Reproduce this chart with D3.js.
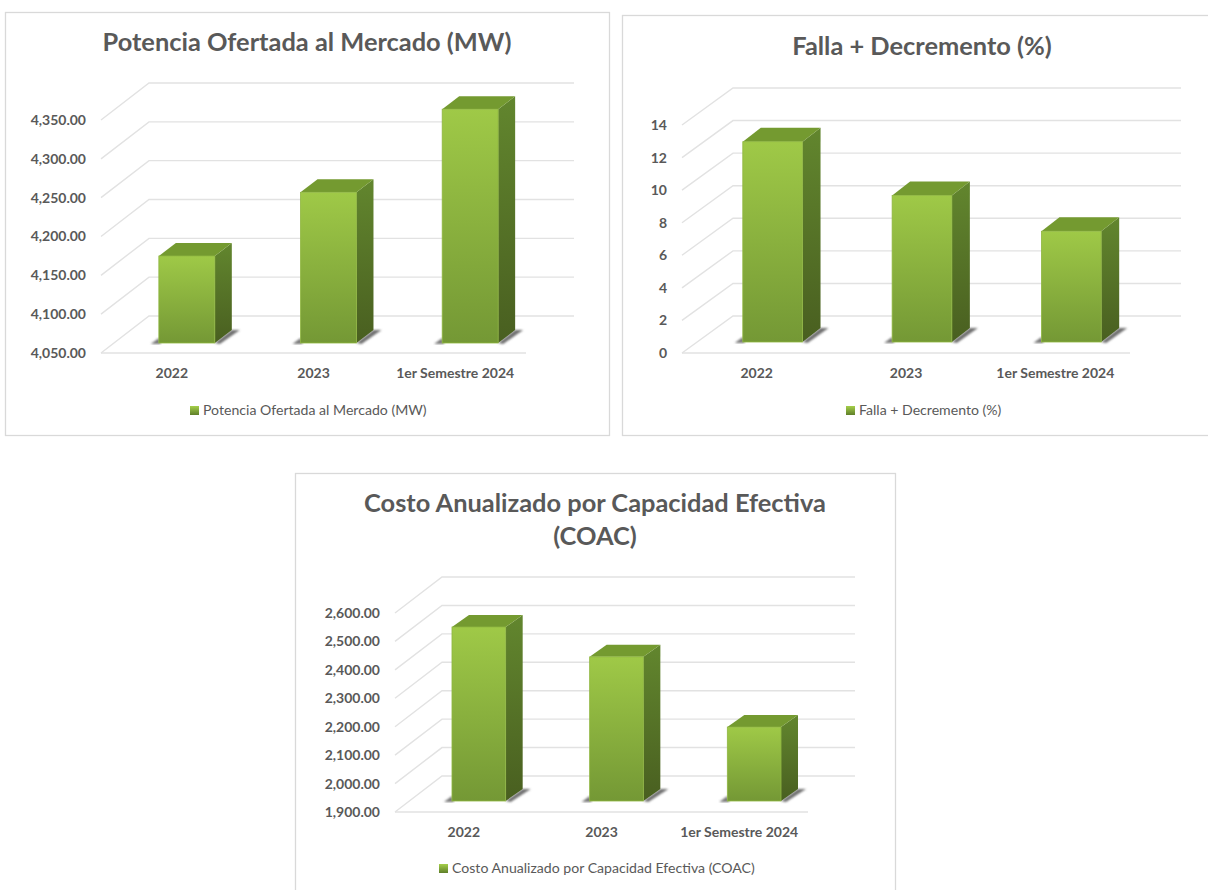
<!DOCTYPE html>
<html>
<head>
<meta charset="utf-8">
<script src="https://cdn.jsdelivr.net/npm/d3@7"></script>
<style>
  body { margin: 0; background: #fff; }
  svg { display: block; }
  text { font-family: Lato, "Open Sans", sans-serif; fill: #595959; }
</style>
</head>
<body>
<svg id="charts" width="1208" height="890"></svg>
<script>
var categories = ["2022", "2023", "1er Semestre 2024"];

var potenciaValues = [4162, 4244, 4351];
var potenciaTicks = [4050, 4100, 4150, 4200, 4250, 4300, 4350];

var fallaValues = [12.3, 9.0, 6.8];
var fallaTicks = [0, 2, 4, 6, 8, 10, 12, 14];

var coacValues = [2512, 2407, 2160];
var coacTicks = [1900, 2000, 2100, 2200, 2300, 2400, 2500, 2600];

var svg = d3.select("#charts");
var defs = svg.append("defs");

function gradient(id, top, bottom) {
  var g = defs.append("linearGradient").attr("id", id)
    .attr("x1", 0).attr("y1", 0).attr("x2", 0).attr("y2", 1);
  g.append("stop").attr("offset", "0%").attr("stop-color", top);
  g.append("stop").attr("offset", "100%").attr("stop-color", bottom);
}
gradient("front", "#9fc947", "#749835");
gradient("side", "#62862e", "#495f20");
gradient("swatch", "#a5cf4a", "#5f7f2a");
defs.append("filter").attr("id", "soft")
  .append("feGaussianBlur").attr("stdDeviation", 0.8);

function poly(pts) {
  return "M" + pts.map(function(p) { return p.join(","); }).join("L") + "Z";
}

function drawChart(c) {
  var g = svg.append("g");

  g.append("rect")
    .attr("x", c.panel[0]).attr("y", c.panel[1])
    .attr("width", c.panel[2]).attr("height", c.panel[3])
    .attr("fill", "#fff").attr("stroke", "#d9d9d9").attr("stroke-width", 1.3);

  c.title.forEach(function(line, i) {
    g.append("text")
      .attr("x", c.titleX).attr("y", c.titleY + i * 33)
      .attr("text-anchor", "middle")
      .attr("font-size", 25.4).attr("font-weight", 700)
      .text(line);
  });

  var x = d3.scaleBand().domain(categories).range([c.x0, c.x1])
    .paddingInner(c.pad).paddingOuter(c.pad / 2);
  var y = d3.scaleLinear().domain(d3.extent(c.ticks)).range([c.floorY, c.topY]);

  // walls: diagonal on the left, then the back gridline
  c.ticks.forEach(function(t) {
    g.append("path")
      .attr("d", "M" + c.x0 + "," + y(t) + "L" + (c.x0 + c.dx) + "," + (y(t) - c.dy) + "H" + (c.x1 + c.dx))
      .attr("fill", "none").attr("stroke", "#e2e2e2").attr("stroke-width", 1.4);
  });
  g.append("line")
    .attr("x1", c.x0).attr("x2", c.x1)
    .attr("y1", c.floorY).attr("y2", c.floorY)
    .attr("stroke", "#e2e2e2").attr("stroke-width", 1.4);

  var w = x.bandwidth();
  var bars = g.selectAll(".bar").data(c.values).enter().append("g").attr("class", "bar");

  function left(d, i) { return x(categories[i]) + c.barDx; }
  var base = c.floorY - c.barDy;

  // shadow on the floor, a wedge on each side of the foot
  bars.append("path")
    .attr("d", function(d, i) {
      var l = left(d, i), r = l + w;
      return poly([[r, base], [r + c.sideDx, base - c.sideDy], [r + c.sideDx + 8, base - c.sideDy], [r + 5, base + 1]]);
    })
    .attr("fill", "#6f6f6f").attr("filter", "url(#soft)");
  bars.append("path")
    .attr("d", function(d, i) {
      var l = left(d, i);
      return poly([[l - 8, base + 1], [l, base - 5], [l + 2, base + 1]]);
    })
    .attr("fill", "#777").attr("filter", "url(#soft)");

  bars.append("path")
    .attr("d", function(d, i) {
      var l = left(d, i), t = y(d) - c.barDy;
      return poly([[l + w, t], [l + w + c.sideDx, t - c.sideDy], [l + w + c.sideDx, base - c.sideDy], [l + w, base]]);
    })
    .attr("fill", "url(#side)");

  bars.append("path")
    .attr("d", function(d, i) {
      var l = left(d, i), t = y(d) - c.barDy;
      return poly([[l, t], [l + c.sideDx, t - c.sideDy], [l + w + c.sideDx, t - c.sideDy], [l + w, t]]);
    })
    .attr("fill", "#749a30");

  bars.append("rect")
    .attr("x", left)
    .attr("y", function(d) { return y(d) - c.barDy; })
    .attr("width", w)
    .attr("height", function(d) { return base - y(d) + c.barDy; })
    .attr("fill", "url(#front)")
    .attr("stroke", "#8fb640").attr("stroke-width", 0.8);

  var yAxis = d3.axisLeft(y).tickValues(c.ticks).tickSize(0).tickPadding(15).tickFormat(d3.format(c.format));
  var yG = g.append("g").attr("transform", "translate(" + c.x0 + ",0)").call(yAxis);
  yG.select(".domain").remove();
  yG.selectAll("text").attr("font-size", 14).attr("font-weight", 700).attr("font-family", null);

  var xAxis = d3.axisBottom(x).tickSize(0).tickPadding(15);
  var xG = g.append("g").attr("transform", "translate(0," + c.floorY + ")").call(xAxis);
  xG.select(".domain").remove();
  xG.selectAll("text").attr("font-size", 14).attr("font-weight", 700).attr("font-family", null);

  g.append("rect")
    .attr("x", c.legendX).attr("y", c.legendY - 9)
    .attr("width", 9).attr("height", 9)
    .attr("fill", "url(#swatch)");
  g.append("text")
    .attr("x", c.legendX + 13).attr("y", c.legendY)
    .attr("font-size", 14.1)
    .text(c.legend);
}

drawChart({
  panel: [5.5, 12.5, 604, 423],
  title: ["Potencia Ofertada al Mercado (MW)"], titleX: 307, titleY: 51,
  values: potenciaValues, ticks: potenciaTicks, format: ",.2f",
  x0: 101, x1: 526, floorY: 353, topY: 120, dx: 48, dy: 37, pad: 0.605,
  barDx: 15, barDy: 10, sideDx: 17, sideDy: 13,
  legend: "Potencia Ofertada al Mercado (MW)", legendX: 190, legendY: 415
});

drawChart({
  panel: [622.5, 15.5, 620, 420],
  title: ["Falla + Decremento (%)"], titleX: 922, titleY: 55,
  values: fallaValues, ticks: fallaTicks, format: "d",
  x0: 682, x1: 1130, floorY: 353, topY: 125, dx: 51, dy: 37, pad: 0.6,
  barDx: 16, barDy: 11, sideDx: 18, sideDy: 14,
  legend: "Falla + Decremento (%)", legendX: 846, legendY: 415
});

drawChart({
  panel: [295.5, 473.5, 600, 430],
  title: ["Costo Anualizado por Capacidad Efectiva", "(COAC)"], titleX: 595, titleY: 512,
  values: coacValues, ticks: coacTicks, format: ",.2f",
  x0: 395, x1: 808, floorY: 812, topY: 613, dx: 47, dy: 36, pad: 0.61,
  barDx: 15, barDy: 11, sideDx: 17, sideDy: 12,
  legend: "Costo Anualizado por Capacidad Efectiva (COAC)", legendX: 439, legendY: 873
});
</script>
</body>
</html>
